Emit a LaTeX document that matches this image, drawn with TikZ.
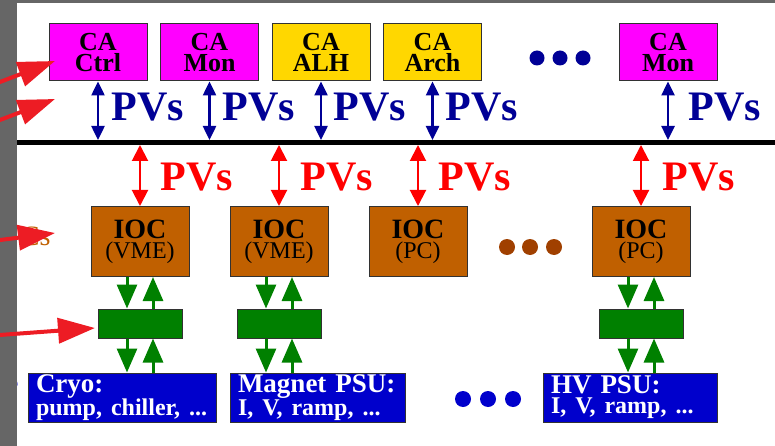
\documentclass[tikz,border=0pt]{standalone}
\usepackage{fontspec}
\setmainfont{Liberation Serif}
\usetikzlibrary{arrows.meta}
\definecolor{magenta1}{RGB}{255, 0, 255}
\definecolor{gold1}{RGB}{255, 215, 0}
\definecolor{brown1}{RGB}{192, 96, 0}
\definecolor{brown2}{RGB}{160, 64, 0}
\definecolor{green1}{RGB}{0, 128, 0}
\definecolor{navy1}{RGB}{0, 0, 150}
\definecolor{blue1}{RGB}{0, 0, 204}
\definecolor{red1}{RGB}{255, 0, 0}
\definecolor{red2}{RGB}{237, 28, 36}
\definecolor{gray1}{RGB}{102, 102, 102}
\definecolor{edge1}{RGB}{50, 50, 50}

\tikzset{
  cabox/.style={draw=edge1, minimum width=98pt, minimum height=57pt, inner sep=0pt,
    align=center, font=\bfseries\fontsize{26}{21}\selectfont},
  iocbox/.style={draw=edge1, fill=brown1, minimum width=98pt, minimum height=70pt,
    inner sep=0pt, align=center, font=\fontsize{28}{20}\selectfont},
  swbox/.style={draw=edge1, fill=green1, minimum width=84pt, minimum height=29pt, inner sep=0pt},
  hwbox/.style={draw=edge1, fill=blue1, minimum height=49pt, inner xsep=8pt, inner ysep=0pt,
    text=white, align=left, font=\bfseries\fontsize{27}{20}\selectfont},
  pvs/.style={anchor=west, inner sep=0pt, font=\bfseries\fontsize{42}{42}\selectfont},
  pvblue/.style={{Triangle[length=14pt,width=13pt]}-{Triangle[length=14pt,width=13pt]}, navy1, line width=2.5pt},
  pvred/.style={{Triangle[length=16pt,width=16pt]}-{Triangle[length=16pt,width=16pt]}, red1, line width=2pt},
  gdown/.style={-{Triangle[length=24pt,width=20pt]}, green1, line width=3pt},
  gup/.style={{Triangle[length=24pt,width=20pt]}-, green1, line width=3pt},
  pointer/.style={-{Triangle[length=37pt,width=25pt]}, red2, line width=4pt}
}
\newcommand{\ioctext}[1]{\textbf{IOC}\\{\fontsize{24}{20}\selectfont(#1)}}
\newcommand{\hwtext}[2]{#1\\{\fontsize{24}{20}\selectfont #2}}

\begin{document}
\begin{tikzpicture}[x=1pt, y=-1pt, line width=1pt]
  \useasboundingbox (0,0) rectangle (775,446);
  \clip (0,0) rectangle (775,446);

  % side labels, mostly under the margin
  \node[anchor=base east, inner sep=0pt, text=brown1, font=\fontsize{28}{28}\selectfont] (ioclbl) at (51,245) {Cs};
  \node[anchor=base east, inner sep=0pt, text=blue1, font=\fontsize{28}{28}\selectfont] (hwlbl) at (19,392) {e};
  \fill[gray1] (0,0) rectangle (17,446);
  \fill[gray1] (0,0) rectangle (775,3);

  % CA clients
  \node[cabox, fill=magenta1] (ctrl) at (98,52.5) {CA\\Ctrl};
  \node[cabox, fill=magenta1] (mon) at (209.5,52.5) {CA\\Mon};
  \node[cabox, fill=gold1] (alh) at (321,52.5) {CA\\ALH};
  \node[cabox, fill=gold1] (arch) at (432.5,52.5) {CA\\Arch};
  \node[cabox, fill=magenta1] (mon2) at (668,52.5) {CA\\Mon};
  \foreach \x in {537,560,583}
    \fill[navy1] (\x,58) circle (7.5pt);

  % network
  \coordinate (busl) at (17,142.5);
  \coordinate (busr) at (775,142.5);
  \coordinate (bustop) at (0,140);
  \coordinate (busbot) at (0,145);
  \draw[line width=5pt] (busl) -- (busr);

  \foreach \n in {ctrl,mon,alh,arch,mon2}
    \draw[pvblue] (\n.south) -- (\n.south |- bustop);
  \foreach \x in {111,222,333,445,688}
    \node[pvs, text=navy1] (pvc\x) at (\x,107.5) {PVs};

  % IOCs
  \node[iocbox] (ioca) at (140,241.5) {\ioctext{VME}};
  \node[iocbox] (iocb) at (279,241.5) {\ioctext{VME}};
  \node[iocbox] (iocc) at (418,241.5) {\ioctext{PC}};
  \node[iocbox] (iocd) at (641,241.5) {\ioctext{PC}};
  \foreach \x in {507,530,554}
    \fill[brown2] (\x,247) circle (8pt);

  \foreach \n in {ioca,iocb,iocc,iocd}
    \draw[pvred] (\n.north |- busbot) -- (\n.north);
  \foreach \x in {160,300,438,662}
    \node[pvs, text=red1] (pvi\x) at (\x,177.5) {PVs};

  % drivers and hardware
  \node[swbox] (swa) at (140,323.5) {};
  \node[swbox] (swb) at (279,323.5) {};
  \node[swbox] (swd) at (641,323.5) {};

  \node[hwbox, text width=172pt] (cryo) at (122,397.5) {\hwtext{Cryo:}{pump, chiller, ...}};
  \node[hwbox, text width=159pt] (magnet) at (317.5,397.5) {\hwtext{Magnet PSU:}{I, V, ramp, ...}};
  \node[hwbox, text width=158pt] (hv) at (630,397.5) {\hwtext{HV PSU:}{I, V, ramp, ...}};
  \foreach \x in {463,488,513}
    \fill[blue1] (\x,399) circle (8pt);

  \foreach \from/\mid/\to in {ioca/swa/cryo, iocb/swb/magnet, iocd/swd/hv} {
    \draw[gdown] ([xshift=-13pt]\from.south) -- ([xshift=-13pt]\mid.north);
    \draw[gup] ([xshift=13pt]\from.south) -- ([xshift=13pt]\mid.north);
    \draw[gdown] ([xshift=-13pt]\mid.south) -- ([xshift=-13pt]\mid.south |- \to.north);
    \draw[gup] ([xshift=13pt]\mid.south) -- ([xshift=13pt]\mid.south |- \to.north);
  }

  % pointers from the left
  \coordinate (t1) at (-10,85.8);  \coordinate (h1) at (55,61);
  \coordinate (t2) at (-10,123.8); \coordinate (h2) at (55,99);
  \coordinate (t3) at (-10,241.3); \coordinate (h3) at (55,233);
  \coordinate (t4) at (-10,335.7); \coordinate (h4) at (95,328);
  \foreach \from/\to in {t1/h1, t2/h2, t3/h3, t4/h4}
    \draw[pointer] (\from) -- (\to);
\end{tikzpicture}
\end{document}
